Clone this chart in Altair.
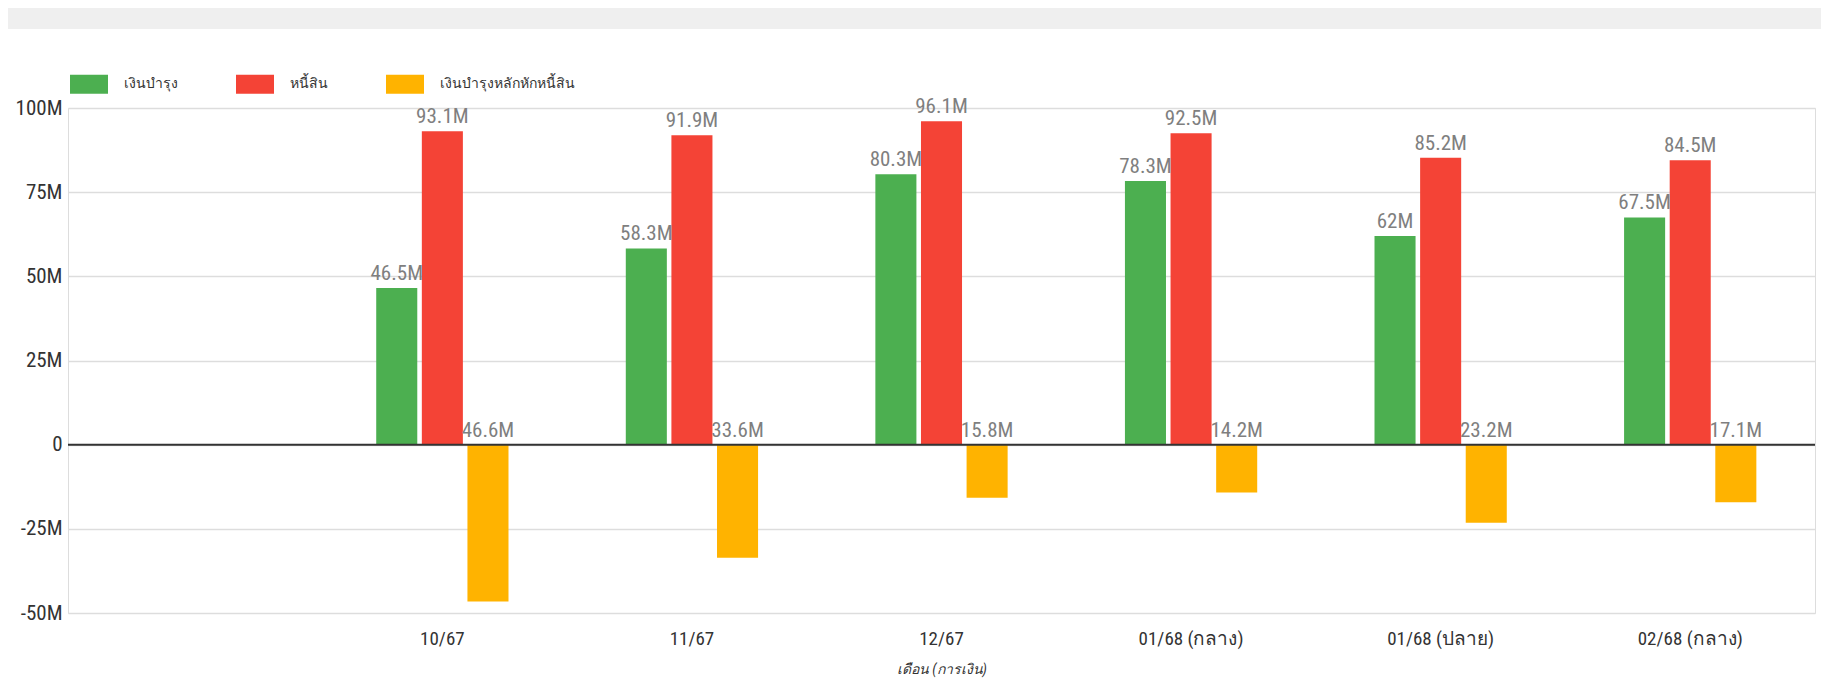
import altair as alt
import pandas as pd

# ---- data (millions of baht) ----
months = ["10/67", "11/67", "12/67", "01/68 (กลาง)", "01/68 (ปลาย)", "02/68 (กลาง)"]
series = ["เงินบำรุง", "หนี้สิน", "เงินบำรุงหลักหักหนี้สิน"]
income = [46.5, 58.3, 80.3, 78.3, 62.0, 67.5]
debt = [93.1, 91.9, 96.1, 92.5, 85.2, 84.5]
net = [-46.6, -33.6, -15.8, -14.2, -23.2, -17.1]
colors = ["#4caf50", "#f44336", "#ffb300"]
x_domain = [" "] + months  # leading empty slot as in the original

rows = []
for i, m in enumerate(months):
    for s, vals in zip(series, [income, debt, net]):
        v = vals[i]
        rows.append({
            "month": m,
            "series": s,
            "value": v,
            "label": f"{abs(v):g}M",
            "label_y": v if v > 0 else 0,
        })
df = pd.DataFrame(rows)

FONT = "Liberation Sans Narrow, Roboto Condensed, DejaVu Sans Condensed, Noto Sans, sans-serif"

x_enc = alt.X(
    "month:N",
    scale=alt.Scale(domain=x_domain, paddingInner=0.47, paddingOuter=0.235),
    axis=alt.Axis(
        title="เดือน (การเงิน)",
        titleFont=FONT, titleFontSize=14, titleFontStyle="italic", titleFontWeight="normal",
        titleColor="#333333", titlePadding=14,
        labelAngle=0, labelFont=FONT, labelFontSize=19, labelFontWeight="normal",
        labelColor="#333333", labelPadding=16, ticks=False, domain=False, grid=False,
    ),
)
y_scale = alt.Scale(domain=[-50, 100], nice=False, zero=False)
y_axis = alt.Axis(
    title=None, values=[-50, -25, 0, 25, 50, 75, 100],
    labelExpr="datum.value == 0 ? '0' : datum.value + 'M'",
    labelFont=FONT, labelFontSize=21, labelColor="#333333", labelPadding=6,
    ticks=False, domain=False, grid=True, gridColor="#dddddd", gridWidth=1.5,
)
xoff = alt.XOffset("series:N", sort=series, scale=alt.Scale(domain=series, paddingInner=0.1))

base = alt.Chart(df)

bars = base.mark_bar().encode(
    x=x_enc,
    xOffset=xoff,
    y=alt.Y("value:Q", scale=y_scale, axis=y_axis),
    color=alt.Color(
        "series:N",
        scale=alt.Scale(domain=series, range=colors),
        legend=alt.Legend(
            title=None, orient="none", legendX=2, legendY=-43, direction="horizontal",
            symbolType="M-1,-0.5H1V0.5H-1Z", symbolSize=1444, symbolStrokeWidth=0,
            symbolOpacity=1, labelFontSize=14, labelColor="#333333", labelOffset=16,
            columnPadding=58, labelFont="Noto Sans, sans-serif",
        ),
    ),
)

labels = base.mark_text(
    baseline="bottom", dy=-4, font=FONT, fontSize=21, color="#7f7f7f"
).encode(
    x=x_enc,
    xOffset=xoff,
    y=alt.Y("label_y:Q", scale=y_scale),
    text="label:N",
)

zero = alt.Chart(alt.Data(values=[{"z": 0}])).mark_rule(
    color="#333333", strokeWidth=2
).encode(y=alt.Y("z:Q", scale=y_scale))

deco = alt.Data(values=[{"d": 1}])
top_band = alt.Chart(deco).mark_rect(color="#efefef").encode(
    x=alt.value(-60), x2=alt.value(1753), y=alt.value(-100), y2=alt.value(-79)
)

chart = alt.layer(top_band, bars, zero, labels).properties(
    width=1747,
    height=505,
    autosize=alt.AutoSizeParams(type="none"),
    padding={"left": 60, "top": 100, "right": 6, "bottom": 65},
).configure_view(stroke=None).configure(background="white")

chart.save("out.html", embed_options={"renderer": "svg", "actions": False})
